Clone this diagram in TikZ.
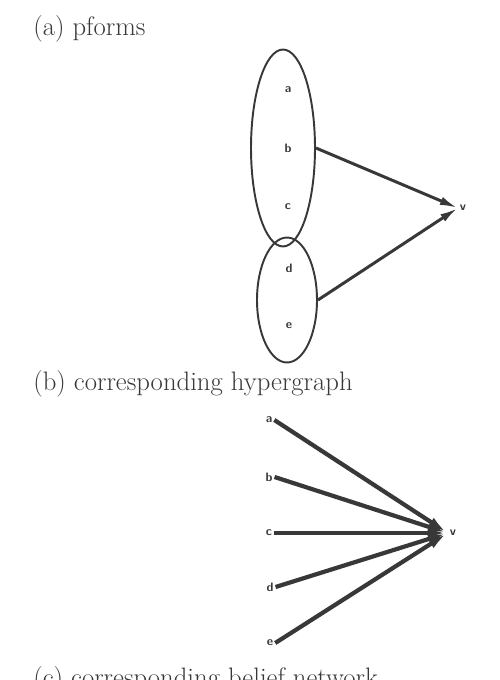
\documentclass[tikz,border=0pt]{standalone}
\usepackage{xcolor}
\usepackage{tikz}
\usetikzlibrary{shapes.geometric, arrows.meta, positioning}
\definecolor{inkgray}{HTML}{383838}

\begin{document}
\begin{tikzpicture}[
    x=0.02cm, y=-0.02cm,
    caption/.style = {anchor=base west, inner sep=0pt, text=inkgray,
                      font=\fontsize{15.2}{18}\selectfont},
    var/.style     = {inner sep=1pt, text=inkgray,
                      font=\sffamily\bfseries\fontsize{7}{8}\selectfont},
    pform/.style   = {ellipse, draw=inkgray, line width=1.1pt, inner sep=0pt},
    hyper/.style   = {-{Latex[length=0.36cm,width=0.17cm]}, line width=1.7pt, color=inkgray},
    belief/.style  = {-{Latex[length=0.4cm,width=0.2cm]}, line width=2.4pt, color=inkgray}
  ]
  \useasboundingbox (0,0) rectangle (500,680);

  % (a) pforms
  \node[caption] (capa) at (33,35) {(a) pforms};
  \node[pform, minimum width=1.28cm, minimum height=3.94cm] (pf1) at (283,148) {};
  \node[pform, minimum width=1.2cm,  minimum height=2.5cm]  (pf2) at (287,300) {};
  \node[var] (a1) at (288,90)  {a};
  \node[var] (b1) at (288,148) {b};
  \node[var] (c1) at (288,207) {c};
  \node[var] (d1) at (289,268) {d};
  \node[var] (e1) at (289,326) {e};
  \node[var] (v1) at (463,208) {v};

  \draw[hyper] (pf1.east) -- (v1.west);
  \draw[hyper] (pf2.east) -- (v1.west);

  % (b) corresponding hypergraph
  \node[caption] (capb) at (33,390) {(b) corresponding hypergraph};
  \node[var] (a2) at (269,420) {a};
  \node[var] (b2) at (269,477) {b};
  \node[var] (c2) at (269,533) {c};
  \node[var] (d2) at (270,587) {d};
  \node[var] (e2) at (270,643) {e};
  \node[var] (v2) at (453,533) {v};

  \foreach \src in {a2,b2,c2,d2,e2}
    \draw[belief] (\src.east) -- (v2.west);

  % (c) corresponding belief network
  \node[caption] (capc) at (33,686) {(c) corresponding belief network};
\end{tikzpicture}
\end{document}
